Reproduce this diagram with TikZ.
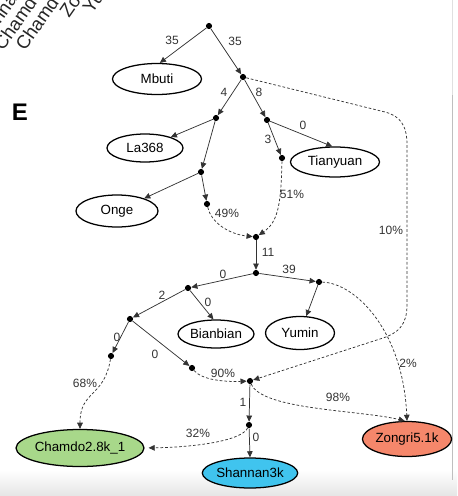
\documentclass[tikz,border=0pt]{standalone}
\usepackage{fontspec}
\setmainfont{Liberation Sans}
\usetikzlibrary{arrows.meta,shapes.geometric}
\definecolor{chamdoc}{HTML}{A8D88A}
\definecolor{shannanc}{HTML}{40C4EE}
\definecolor{zongric}{HTML}{F5876B}
\begin{document}
\begin{tikzpicture}[x=0.75pt,y=-0.75pt,
  dot/.style={circle,fill=black,inner sep=0pt,minimum size=4.6pt},
  pop/.style={ellipse,draw=black,line width=0.95pt,inner sep=0pt,font=\fontsize{10}{12}\selectfont},
  edge/.style={draw=black!80,line width=0.55pt,-{Triangle[length=4.6pt,width=4.2pt]}},
  adm/.style={edge,dash pattern=on 2pt off 1.5pt},
  lab/.style={font=\fontsize{9}{10}\selectfont,text=black!80,inner sep=0pt},
  rot/.style={rotate=55,anchor=base west,font=\fontsize{14}{16}\selectfont,text=black!85,inner sep=0pt}]
\useasboundingbox (0,0) rectangle (457,496);
\begin{scope}
\clip (0,0) rectangle (457,496);
\shade[top color=white,bottom color=black!10] (0,470) rectangle (457,496);
\draw[black!12,line width=0.5pt] (452.5,0) -- (452.5,95);
\draw[black!25,line width=0.8pt] (452.5,95) -- (452.5,480);
\node[rot] (t1) at (-19,52) {Shannan};
\node[rot] (t2) at (3,52) {Chamdo};
\node[rot] (t3) at (25,52) {Chamdo};
\node[rot] (t4) at (69,19) {Zongri};
\node[rot] (t5) at (92,15) {Yumin};
\end{scope}

\node[font=\fontsize{18}{20}\selectfont\bfseries,inner sep=0pt] (E) at (20,112) {E};

% dots
\node[dot] (root) at (209,26) {};
\node[dot] (A) at (243,77) {};
\node[dot] (B) at (216,118) {};
\node[dot] (C) at (267,120) {};
\node[dot] (D) at (282,158) {};
\node[dot] (Ed) at (201,172) {};
\node[dot] (F) at (207,204) {};
\node[dot] (G) at (256,237) {};
\node[dot] (I) at (256,273) {};
\node[dot] (J) at (188,288) {};
\node[dot] (K) at (319,282) {};
\node[dot] (L) at (130,319) {};
\node[dot] (M) at (111,356) {};
\node[dot] (N) at (192,368) {};
\node[dot] (H) at (250,381) {};
\node[dot] (P) at (249,425) {};

% populations
\node[pop,minimum width=66.75pt,minimum height=23.25pt] (Mbuti) at (157,79) {Mbuti};
\node[pop,minimum width=57pt,minimum height=21pt] (La) at (145,148) {La368};
\node[pop,minimum width=61.5pt,minimum height=24pt] (Onge) at (117,211) {Onge};
\node[pop,minimum width=66.75pt,minimum height=22.5pt] (Tian) at (335,162) {Tianyuan};
\node[pop,minimum width=57pt,minimum height=21pt] (Bian) at (216,334) {Bianbian};
\node[pop,minimum width=51.75pt,minimum height=24.75pt] (Yumin) at (300,333) {Yumin};
\node[pop,fill=chamdoc,minimum width=85.5pt,minimum height=27.75pt] (Cham) at (80,448) {Chamdo2.8k\_1};
\node[pop,fill=shannanc,minimum width=69.75pt,minimum height=22.5pt] (Shan) at (250,473) {Shannan3k};
\node[pop,fill=zongric,minimum width=66pt,minimum height=26.25pt] (Zong) at (407,439) {Zongri5.1k};

% tree edges
\draw[edge] (root) -- (Mbuti.80);
\draw[edge] (root) -- (A);
\draw[edge] (A) -- (B);
\draw[edge] (A) -- (C);
\draw[edge] (B) -- (La);
\draw[edge] (B) -- (Ed);
\draw[edge] (C) -- (Tian.100);
\draw[edge] (C) -- (D);
\draw[edge] (Ed) -- (Onge);
\draw[edge] (Ed) -- (F);
\draw[edge] (G) -- (I);
\draw[edge] (I) -- (J);
\draw[edge] (I) -- (K);
\draw[edge] (J) -- (L);
\draw[edge] (J) -- (Bian.100);
\draw[edge] (K) -- (Yumin);
\draw[edge] (L) -- (M);
\draw[edge] (L) -- (N);
\draw[edge] (H) -- (P);
\draw[edge] (P) -- (Shan.north);

% admixture edges
\draw[adm] (F) .. controls (211,222) and (228,234) .. (G);
\draw[adm] (D) .. controls (281,205) and (278,222) .. (G);
\draw[adm] (A) -- (385,112) .. controls (400,116) and (407,125) .. (407,145) -- (407,305) .. controls (407,325) and (398,333) .. (383,338) -- (H);
\draw[adm] (K) .. controls (355,283) and (403,330) .. (Zong.north);
\draw[adm] (H) .. controls (262,410) and (360,410) .. (Zong.97);
\draw[adm] (N) .. controls (202,380) and (225,382) .. (H);
\draw[adm] (M) .. controls (104,398) and (80,390) .. (Cham.north);
\draw[adm,shorten >=3pt] (P) .. controls (242,440) and (200,447) .. (Cham.east);

% labels
\node[lab] (l1) at (172,40) {35};
\node[lab] (l2) at (235,41) {35};
\node[lab] (l3) at (224,92) {4};
\node[lab] (l4) at (259,92) {8};
\node[lab] (l5) at (303,125) {0};
\node[lab] (l6) at (268,139) {3};
\node[lab] (l7) at (227,213) {49\%};
\node[lab] (l8) at (292,194) {51\%};
\node[lab] (l9) at (391,230) {10\%};
\node[lab] (l10) at (268,252) {11};
\node[lab] (l11) at (223,274) {0};
\node[lab] (l12) at (289,269) {39};
\node[lab] (l13) at (162,295) {2};
\node[lab] (l14) at (208,302) {0};
\node[lab] (l15) at (117,337) {0};
\node[lab] (l16) at (155,354) {0};
\node[lab] (l17) at (223,373) {90\%};
\node[lab] (l18) at (408,363) {2\%};
\node[lab] (l19) at (338,397) {98\%};
\node[lab] (l20) at (85,383) {68\%};
\node[lab] (l21) at (198,433) {32\%};
\node[lab] (l22) at (243,402) {1};
\node[lab] (l23) at (256,437) {0};
\end{tikzpicture}
\end{document}
